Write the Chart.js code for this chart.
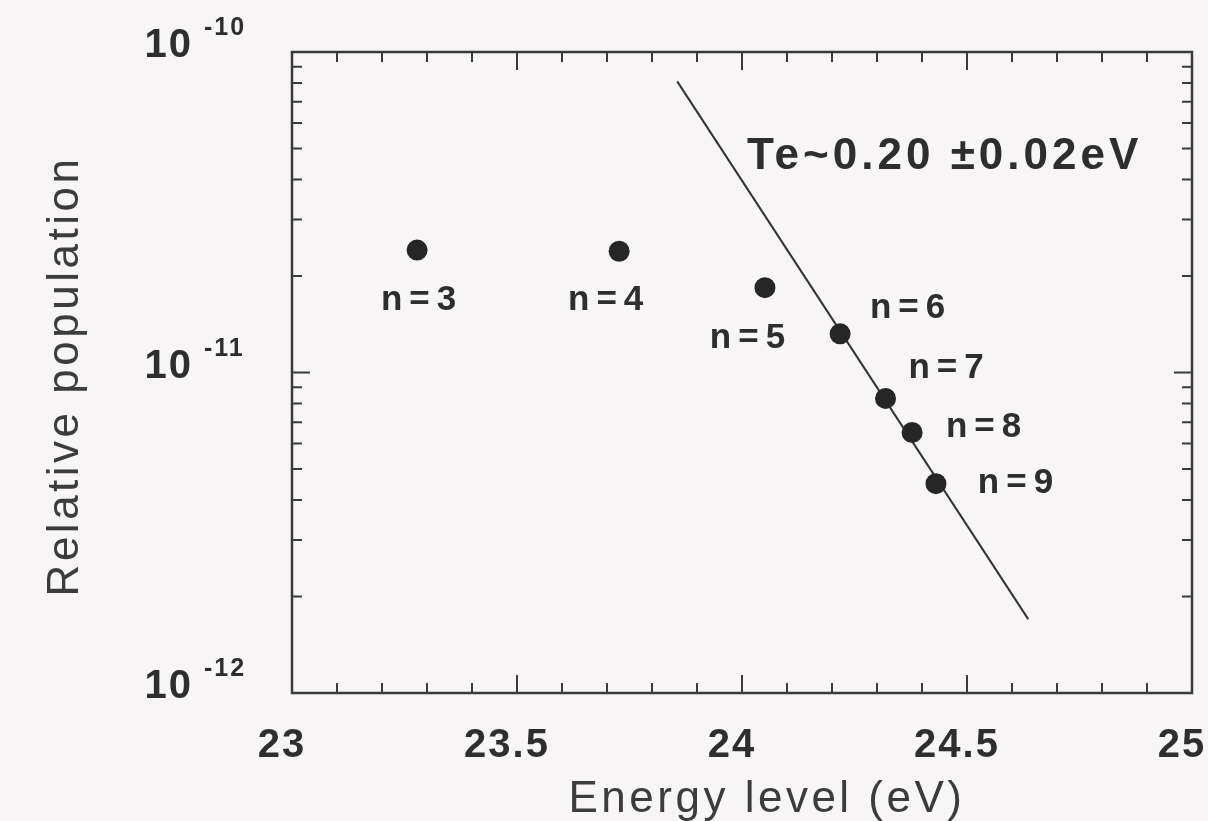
<!DOCTYPE html>
<html lang="en">
<head>
  <meta charset="UTF-8">
  <title>Relative population vs energy level</title>
  <script src="https://cdn.jsdelivr.net/npm/chart.js"></script>
  <style>
    html, body { margin: 0; padding: 0; background: #f7f5f5; }
    #popChart { display: block; }
  </style>
</head>
<body>

  <canvas id="popChart" width="1208" height="821"></canvas>

  <script>
    // measured level populations
    const levels = ['n=3', 'n=4', 'n=5', 'n=6', 'n=7', 'n=8', 'n=9'];
    const energy = [23.278, 23.727, 24.051, 24.218, 24.319, 24.378, 24.431];
    const population = [2.41e-11, 2.39e-11, 1.84e-11, 1.32e-11, 8.3e-12, 6.5e-12, 4.5e-12];

    // Boltzmann fit through n=6..9
    const fitEnergy = [23.856, 24.636];
    const fitPopulation = [8.1e-11, 1.7e-12];
    const fitLabel = 'Te~0.20 \u00b10.02eV';

    // axis ticks
    const xTickLabels = [23, 23.5, 24, 24.5, 25];
    const yDecades = [-10, -11, -12];

    // where each n= label sits relative to its point (px)
    const labelOffsets = [[2, 60], [-13, 59], [-17, 60], [68, -16], [61, -20], [72, 5], [80, 9]];

    const ink = '#2e2e2e';

    const framePlugin = {
      id: 'frame',
      afterDraw(chart) {
        const ctx = chart.ctx;
        const area = chart.chartArea;
        const xs = chart.scales.x, ys = chart.scales.y;
        ctx.save();
        ctx.strokeStyle = '#3a3a3a';
        ctx.lineWidth = 2.5;
        ctx.strokeRect(area.left, area.top, area.right - area.left, area.bottom - area.top);

        // inward ticks, bottom and top
        ctx.lineWidth = 2;
        for (let i = 0; i <= 20; i++) {
          const px = xs.getPixelForValue(23 + i * 0.1);
          const len = i % 5 === 0 ? 18 : 10;
          ctx.beginPath();
          ctx.moveTo(px, area.bottom); ctx.lineTo(px, area.bottom - len);
          ctx.moveTo(px, area.top); ctx.lineTo(px, area.top + len);
          ctx.stroke();
        }
        // inward ticks, left and right (log)
        for (let e = -12; e <= -11; e++) {
          for (let m = 1; m <= 9; m++) {
            const py = ys.getPixelForValue(m * Math.pow(10, e));
            const len = m === 1 ? 18 : 10;
            ctx.beginPath();
            ctx.moveTo(area.left, py); ctx.lineTo(area.left + len, py);
            ctx.moveTo(area.right, py); ctx.lineTo(area.right - len, py);
            ctx.stroke();
          }
        }

        ctx.fillStyle = ink;
        ctx.letterSpacing = '2px';

        // x tick labels
        ctx.font = 'bold 40px "Liberation Sans", Arial, sans-serif';
        ctx.textAlign = 'center';
        ctx.textBaseline = 'alphabetic';
        xTickLabels.forEach(v => {
          ctx.fillText(String(v), xs.getPixelForValue(v) - 10, area.bottom + 64);
        });

        // y tick labels 10^n
        yDecades.forEach(d => {
          const py = ys.getPixelForValue(Math.pow(10, d));
          ctx.font = 'bold 40px "Liberation Sans", Arial, sans-serif';
          ctx.textAlign = 'right';
          ctx.fillText('10', area.left - 99, py + 5);
          ctx.font = 'bold 25px "Liberation Sans", Arial, sans-serif';
          ctx.textAlign = 'left';
          ctx.fillText(String(d), area.left - 88, py - 17);
        });

        // point labels
        ctx.font = 'bold 35px "Liberation Sans", Arial, sans-serif';
        ctx.letterSpacing = '7px';
        ctx.textAlign = 'center';
        levels.forEach((lab, i) => {
          const px = xs.getPixelForValue(energy[i]);
          const py = ys.getPixelForValue(population[i]);
          ctx.fillText(lab, px + labelOffsets[i][0] + 3, py + labelOffsets[i][1]);
        });

        // fit annotation
        ctx.font = 'bold 44px "Liberation Sans", Arial, sans-serif';
        ctx.letterSpacing = '4px';
        ctx.textAlign = 'left';
        ctx.fillText(fitLabel, 747, area.top + 117);

        // axis titles
        ctx.font = '44px "Liberation Sans", Arial, sans-serif';
        ctx.letterSpacing = '3.5px';
        ctx.fillStyle = '#3c3c3c';
        ctx.textAlign = 'center';
        ctx.fillText('Energy level (eV)', 767, area.bottom + 119);
        ctx.save();
        ctx.translate(78, 376);
        ctx.rotate(-Math.PI / 2);
        ctx.fillText('Relative population', 0, 0);
        ctx.restore();

        ctx.restore();
      }
    };

    const ctx = document.getElementById('popChart').getContext('2d');
    new Chart(ctx, {
      type: 'scatter',
      data: {
        datasets: [
          {
            data: energy.map((x, i) => ({ x: x, y: population[i] })),
            pointRadius: 10.5,
            pointBackgroundColor: '#262626',
            pointBorderWidth: 0
          },
          {
            data: fitEnergy.map((x, i) => ({ x: x, y: fitPopulation[i] })),
            showLine: true,
            pointRadius: 0,
            borderColor: '#333',
            borderWidth: 2
          }
        ]
      },
      options: {
        responsive: false,
        animation: false,
        layout: { padding: { left: 292, right: 16, top: 52, bottom: 128 } },
        plugins: { legend: { display: false }, tooltip: { enabled: false } },
        scales: {
          x: { type: 'linear', min: 23, max: 25, display: false },
          y: { type: 'logarithmic', min: 1e-12, max: 1e-10, display: false }
        }
      },
      plugins: [framePlugin]
    });
  </script>

</body>
</html>
